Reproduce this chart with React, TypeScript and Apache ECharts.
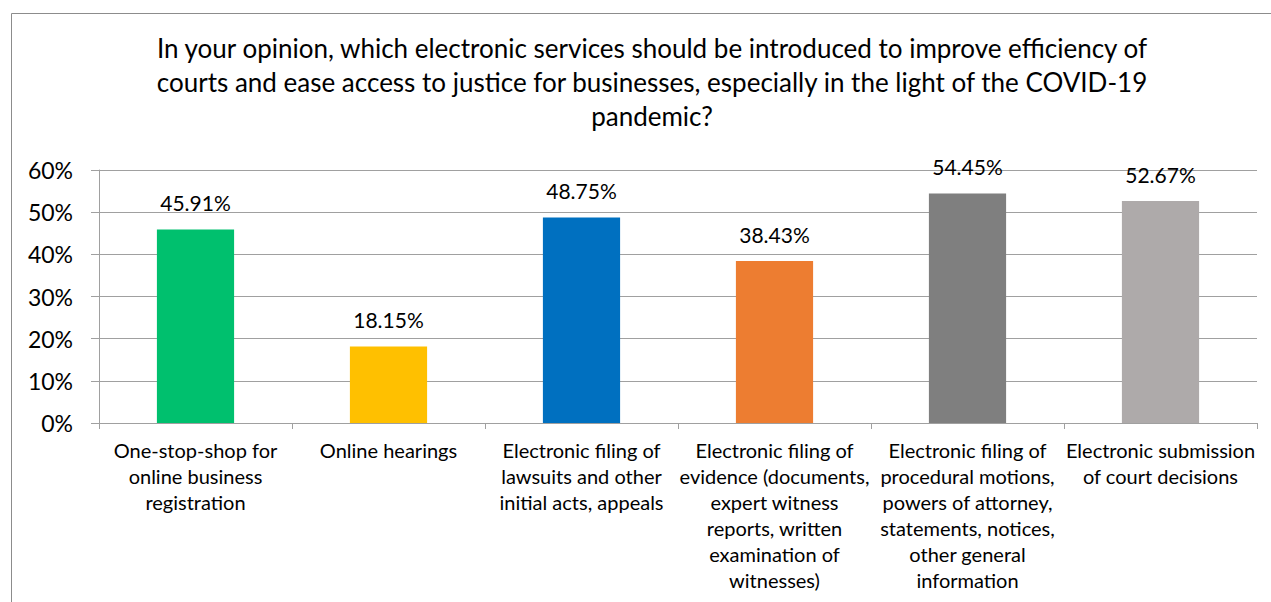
import React, { useEffect, useRef } from "react";
import * as echarts from "echarts";

const titleText =
  "In your opinion, which electronic services should be introduced to improve efficiency of\ncourts and ease access to justice for businesses, especially in the light of the COVID-19\npandemic?";

const categories = [
  "One-stop-shop for\nonline business\nregistration",
  "Online hearings",
  "Electronic filing of\nlawsuits and other\ninitial acts, appeals",
  "Electronic filing of\nevidence (documents,\nexpert witness\nreports, written\nexamination of\nwitnesses)",
  "Electronic filing of\nprocedural motions,\npowers of attorney,\nstatements, notices,\nother general\ninformation",
  "Electronic submission\nof court decisions",
];

const values = [45.91, 18.15, 48.75, 38.43, 54.45, 52.67];
const colors = ["#00C06E", "#FFC000", "#0070C0", "#ED7D31", "#7F7F7F", "#AEAAAA"];

const FONT = "Lato";

export default function App() {
  const ref = useRef<HTMLDivElement>(null);
  useEffect(() => {
    if (!ref.current) return;
    const chart = echarts.init(ref.current, undefined, { renderer: "svg" });
    chart.setOption({
      animation: false,
      backgroundColor: "#ffffff",
      graphic: [
        {
          type: "rect",
          shape: { x: 11.5, y: 13.5, width: 1300, height: 700 },
          style: { fill: "none", stroke: "#8c8c8c", lineWidth: 1 },
          silent: true,
        },
      ],
      title: {
        text: titleText,
        left: 647,
        textAlign: "center",
        top: 26,
        textStyle: {
          fontFamily: FONT,
          fontSize: 26,
          fontWeight: "normal",
          color: "#000",
          lineHeight: 34,
        },
      },
      grid: { left: 99, right: 14, top: 170, bottom: 179, containLabel: false },
      xAxis: {
        type: "category",
        data: categories,
        axisLine: { lineStyle: { color: "#a0a0a0", width: 1 } },
        axisTick: { show: true, length: 6, lineStyle: { color: "#a0a0a0" } },
        axisLabel: {
          interval: 0,
          margin: 14,
          fontFamily: FONT,
          fontSize: 20,
          lineHeight: 26,
          color: "#000",
          verticalAlign: "top",
        },
      },
      yAxis: {
        type: "value",
        min: 0,
        max: 60,
        interval: 10,
        axisLine: { show: true, lineStyle: { color: "#a0a0a0", width: 1 } },
        axisTick: { show: true, length: 8, lineStyle: { color: "#a0a0a0" } },
        splitLine: { lineStyle: { color: "#a0a0a0", width: 1 } },
        axisLabel: {
          margin: 26,
          fontFamily: FONT,
          fontSize: 23,
          color: "#000",
          formatter: (v: number) => v + "%",
        },
      },
      series: [
        {
          type: "bar",
          barWidth: "40%",
          data: values.map((v, i) => ({ value: v, itemStyle: { color: colors[i] } })),
          label: {
            show: true,
            position: "top",
            distance: 16,
            fontFamily: FONT,
            fontSize: 21,
            color: "#000",
            formatter: (p: any) => p.value.toFixed(2) + "%",
          },
        },
      ],
    });
    return () => chart.dispose();
  }, []);
  return (
    <div
      ref={ref}
      style={{ position: "absolute", left: 0, top: 0, width: 1271, height: 602 }}
    />
  );
}
